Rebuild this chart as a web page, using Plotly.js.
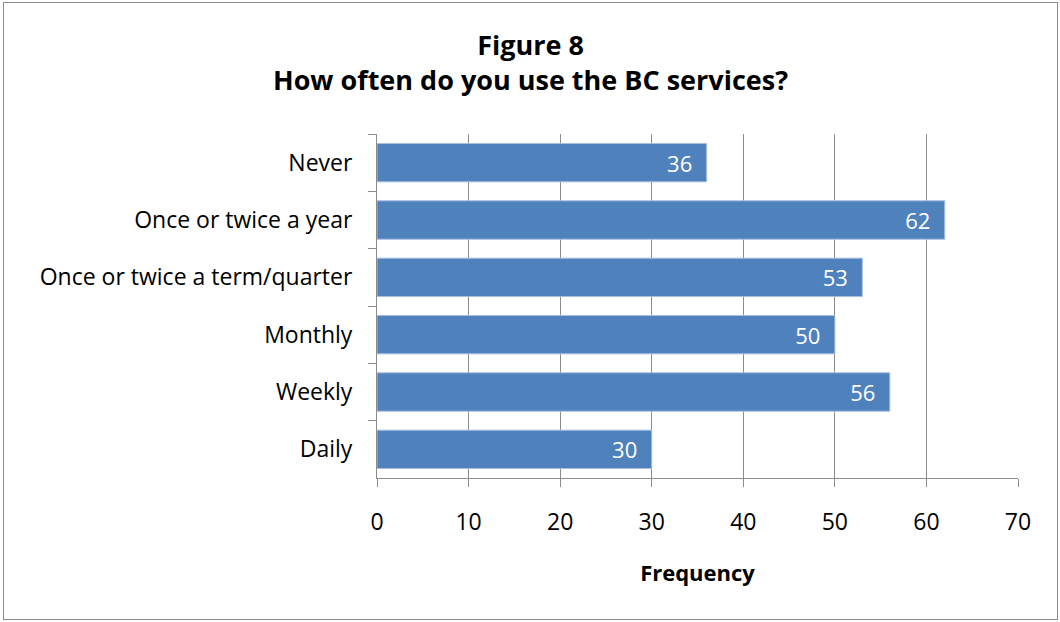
<!DOCTYPE html>
<html>
<head>
<meta charset="utf-8">
<script src="https://cdn.plot.ly/plotly-3.0.1.min.js"></script>
<style>
  html, body { margin: 0; padding: 0; background: #ffffff; }
  #frame { position: absolute; left: 3px; top: 2px; width: 1053px; height: 616px; border: 1px solid #8c8c8c; }
  #chart { width: 1053px; height: 616px; }
</style>
</head>
<body>
<div id="frame"><div id="chart"></div></div>
<script>
const categories = ["Never", "Once or twice a year", "Once or twice a term/quarter", "Monthly", "Weekly", "Daily"];
const frequency = [36, 62, 53, 50, 56, 30];
const xTicks = [0, 10, 20, 30, 40, 50, 60, 70];

const fontFam = "'Open Sans', Lato, 'Liberation Sans', sans-serif";

const trace = {
  type: "bar",
  orientation: "h",
  y: categories,
  x: frequency,
  marker: { color: "#4f81bd", line: { color: "#a9bfdc", width: 1 } },
  text: frequency.map(v => String(v)),
  texttemplate: "%{text}\u00a0\u00a0",
  textposition: "inside",
  insidetextanchor: "end",
  insidetextfont: { color: "#ffffff", size: 22, family: fontFam },
  hoverinfo: "none",
  cliponaxis: false
};

const layout = {
  width: 1053,
  height: 616,
  margin: { l: 373, r: 39, t: 131, b: 141 },
  paper_bgcolor: "#ffffff",
  plot_bgcolor: "#ffffff",
  bargap: 0.33,
  showlegend: false,
  font: { family: fontFam, size: 23, color: "#000000" },
  title: {
    text: "<b>Figure 8</b><br><b>How often do you use the BC services?</b>",
    xref: "container",
    x: 0.5,
    xanchor: "center",
    yref: "container",
    y: 0.915,
    yanchor: "top",
    font: { family: fontFam, size: 27, color: "#000000" }
  },
  xaxis: {
    range: [0, 70],
    tickvals: xTicks,
    ticktext: xTicks.map(String),
    showgrid: true,
    gridcolor: "#8c8c8c",
    gridwidth: 1,
    zeroline: false,
    showline: true,
    linecolor: "#8c8c8c",
    linewidth: 1,
    ticks: "outside",
    ticklen: 8,
    tickcolor: "#8c8c8c",
    ticklabelstandoff: 15,
    tickfont: { family: fontFam, size: 23, color: "#000000" },
    title: { text: "<b>Frequency</b>", font: { family: fontFam, size: 22, color: "#000000" }, standoff: 30 },
    fixedrange: true
  },
  yaxis: {
    type: "category",
    autorange: "reversed",
    showgrid: false,
    zeroline: false,
    showline: true,
    linecolor: "#8c8c8c",
    linewidth: 1,
    ticks: "outside",
    tickson: "boundaries",
    ticklen: 8,
    tickcolor: "#8c8c8c",
    ticklabelstandoff: 19,
    tickfont: { family: fontFam, size: 23, color: "#000000" },
    fixedrange: true
  }
};

Plotly.newPlot("chart", [trace], layout, { displayModeBar: false, staticPlot: true });
</script>
</body>
</html>
